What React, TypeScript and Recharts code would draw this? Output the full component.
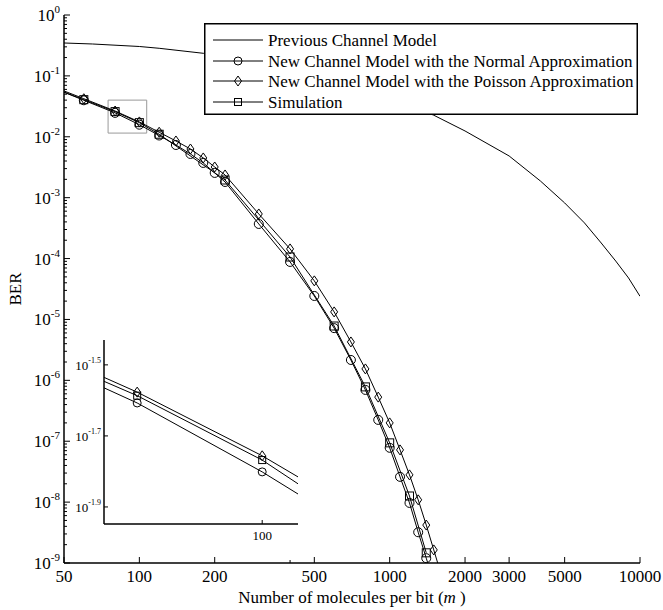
import { LineChart, Line, XAxis, YAxis, ReferenceArea, Legend } from 'recharts'

if (typeof document !== 'undefined') document.body.style.margin = '0'

const FONT = "'Liberation Serif', 'Times New Roman', serif"

// previous channel model (no markers)
const prevM = [50, 65, 100, 120, 180, 200, 300, 500, 700, 1000, 1500, 2000, 3000, 4000, 5000, 6000, 7000, 8000, 9000, 10000]
const prevBer = [0.347, 0.334, 0.304, 0.284, 0.235, 0.223, 0.171, 0.106, 0.0721, 0.0438, 0.0226, 0.01245, 0.00484, 0.00188, 8.2e-4, 3.85e-4, 1.8e-4, 9.1e-5, 4.8e-5, 2.4e-5]

// new model, normal approximation (circles)
const normM = [50, 60, 80, 100, 120, 140, 160, 180, 200, 220, 300, 400, 500, 600, 700, 800, 900, 1000, 1100, 1200, 1300, 1400, 1500]
const normBer = [0.0538, 0.0398, 0.0247, 0.0158, 0.0105, 0.00733, 0.00522, 0.00372, 0.00255, 0.00181, 3.7e-4, 8.8e-5, 2.43e-5, 7.2e-6, 2.16e-6, 6.96e-7, 2.24e-7, 7.8e-8, 2.6e-8, 9.7e-9, 3.2e-9, 1.2e-9, 4.8e-10]

// new model, poisson approximation (diamonds)
const poisM = [50, 60, 80, 100, 120, 140, 160, 180, 200, 220, 300, 400, 500, 600, 700, 800, 900, 1000, 1100, 1200, 1300, 1400, 1500, 1600]
const poisBer = [0.0566, 0.0422, 0.0265, 0.01754, 0.01187, 0.00853, 0.0063, 0.00449, 0.00319, 0.00236, 5.4e-4, 1.44e-4, 4.3e-5, 1.33e-5, 4.27e-6, 1.54e-6, 5.3e-7, 2.0e-7, 7.2e-8, 2.8e-8, 1.09e-8, 4.2e-9, 1.64e-9, 6.8e-10]

// simulation (squares)
const simM = [50, 60, 80, 100, 120, 220, 400, 600, 800, 1000, 1200, 1400]
const simBer = [0.0543, 0.0407, 0.0259, 0.01706, 0.011, 0.00195, 1.06e-4, 7.8e-6, 7.8e-7, 9.4e-8, 1.26e-8, 1.47e-9]

const seriesNames = [
  'Previous Channel Model',
  'New Channel Model with the Normal Approximation',
  'New Channel Model with the Poisson Approximation',
  'Simulation',
]
const seriesShapes = ['none', 'circle', 'diamond', 'square']

const xTicks = [50, 100, 200, 400, 500, 1000, 2000, 3000, 5000, 10000]
const xTickLabels = ['50', '100', '200', '', '500', '1000', '2000', '3000', '5000', '10000']
const yExps = [-9, -8, -7, -6, -5, -4, -3, -2, -1, 0]

// inset (zoom on m = 80..100)
const insetXDomain = [75.4, 106.6]
const insetYExpDomain = [-1.948, -1.43]
const insetXTicks = [100]
const insetYExps = [-1.9, -1.7, -1.5]
const insetYLabels = ['-1.9', '-1.7', '-1.5']
const zoomBoxM = [75, 107]
const zoomBoxBer = [0.0115, 0.04]

const rows = (m: number[], ber: number[]) => m.map((v, i) => ({ m: v, ber: ber[i] }))
const prevData = rows(prevM, prevBer)
const normData = rows(normM, normBer)
const poisData = rows(poisM, poisBer)
const simData = rows(simM, simBer)

const yTicks = yExps.flatMap((e) =>
  e === 0 ? [1] : [1, 2, 3, 4, 5, 6, 7, 8, 9].map((d) => d * Math.pow(10, e))
)
const isDecade = (v: number) => Math.abs(Math.log10(v) - Math.round(Math.log10(v))) < 1e-6

const AXIS = { stroke: '#000', strokeWidth: 1.5 }

function Marker({ shape, cx, cy, s }: { shape: string; cx: number; cy: number; s: number }) {
  if (shape === 'circle') return <circle cx={cx} cy={cy} r={s} fill="none" stroke="#000" />
  if (shape === 'diamond')
    return (
      <polygon
        points={`${cx},${cy - s - 1} ${cx + s - 0.5},${cy} ${cx},${cy + s + 1} ${cx - s + 0.5},${cy}`}
        fill="none"
        stroke="#000"
      />
    )
  if (shape === 'square')
    return <rect x={cx - s + 0.5} y={cy - s + 0.5} width={2 * s - 1} height={2 * s - 1} fill="none" stroke="#000" />
  return null
}

const dotFor = (shape: string, s: number) => (p: any) => {
  const key = `${shape}-${p.index}`
  if (p.cx == null || p.cy == null || p.payload?.m < 60) return <g key={key} />
  return (
    <g key={key}>
      <Marker shape={shape} cx={p.cx} cy={p.cy} s={s} />
    </g>
  )
}

// ---- main axis ticks (all inward) ----
function BottomTick({ x, y, payload }: any) {
  const label = xTickLabels[xTicks.indexOf(payload.value)]
  return (
    <g>
      <line x1={x} x2={x} y1={y} y2={y - (label ? 6 : 3)} stroke="#000" />
      {label ? (
        <text x={x} y={y + 19} textAnchor="middle" fontSize={17} fontFamily={FONT} fill="#000">
          {label}
        </text>
      ) : null}
    </g>
  )
}

function TopTick({ x, y, payload }: any) {
  const label = xTickLabels[xTicks.indexOf(payload.value)]
  return <line x1={x} x2={x} y1={y} y2={y + (label ? 6 : 3)} stroke="#000" />
}

function LeftTick({ x, y, payload }: any) {
  const major = isDecade(payload.value)
  return (
    <g>
      <line x1={x} x2={x + (major ? 6 : 3)} y1={y} y2={y} stroke="#000" />
      {major ? (
        <text x={x - 4} y={y + 6} textAnchor="end" fontSize={17} fontFamily={FONT} fill="#000">
          <tspan>10</tspan>
          <tspan dy={-8} fontSize={11}>
            {Math.round(Math.log10(payload.value))}
          </tspan>
        </text>
      ) : null}
    </g>
  )
}

function RightTick({ x, y, payload }: any) {
  const major = isDecade(payload.value)
  return <line x1={x} x2={x - (major ? 6 : 3)} y1={y} y2={y} stroke="#000" />
}

// ---- inset ticks ----
function InsetBottomTick({ x, y, payload }: any) {
  return (
    <g>
      <line x1={x} x2={x} y1={y} y2={y - 4} stroke="#000" />
      <text x={x} y={y + 16} textAnchor="middle" fontSize={13} fontFamily={FONT} fill="#000">
        {payload.value}
      </text>
    </g>
  )
}

function InsetTopTick({ x, y }: any) {
  return <line x1={x} x2={x} y1={y} y2={y + 4} stroke="#000" />
}

function InsetLeftTick({ x, y, payload }: any) {
  const i = insetYExps.findIndex((e) => Math.abs(Math.pow(10, e) - payload.value) < 1e-9)
  return (
    <g>
      <line x1={x} x2={x + 4} y1={y} y2={y} stroke="#000" />
      <text x={x - 3} y={y + 5} textAnchor="end" fontSize={13} fontFamily={FONT} fill="#000">
        <tspan>10</tspan>
        <tspan dy={-7} fontSize={8}>
          {insetYLabels[i]}
        </tspan>
      </text>
    </g>
  )
}

function InsetRightTick({ x, y }: any) {
  return <line x1={x} x2={x - 4} y1={y} y2={y} stroke="#000" />
}

const xTitle = ({ viewBox }: any) => (
  <text x={viewBox.x + viewBox.width / 2} y={viewBox.y + 40} textAnchor="middle" fontSize={17} fontFamily={FONT} fill="#000">
    Number of molecules per bit (<tspan fontStyle="italic">m</tspan> )
  </text>
)

const yTitle = ({ viewBox }: any) => {
  const cy = viewBox.y + viewBox.height / 2
  return (
    <text x={21} y={cy} transform={`rotate(-90, 21, ${cy})`} textAnchor="middle" fontSize={17} fontFamily={FONT} fill="#000">
      BER
    </text>
  )
}

function LegendBox() {
  const rowY = [17, 38, 58, 79]
  return (
    <svg width={434} height={92} style={{ display: 'block', fontFamily: FONT }}>
      <rect x={0.75} y={0.75} width={432.5} height={90.5} fill="#fff" stroke="#000" strokeWidth={1.5} />
      {seriesNames.map((name, i) => (
        <g key={name}>
          <line x1={9} x2={59} y1={rowY[i]} y2={rowY[i]} stroke="#000" />
          <Marker shape={seriesShapes[i]} cx={34} cy={rowY[i]} s={4} />
          <text x={64} y={rowY[i] + 6} fontSize={17} fontFamily={FONT} fill="#000">
            {name}
          </text>
        </g>
      ))}
    </svg>
  )
}

function Inset() {
  const yDomain = insetYExpDomain.map((e) => Math.pow(10, e))
  const yTk = insetYExps.map((e) => Math.pow(10, e))
  return (
    <LineChart width={250} height={220} margin={{ top: 10, right: 12, bottom: 0, left: 0 }} style={{ fontFamily: FONT }}>
      <XAxis xAxisId="b" dataKey="m" type="number" scale="log" domain={insetXDomain} allowDataOverflow
        ticks={insetXTicks} interval={0} tick={InsetBottomTick} tickLine={false} tickSize={0} tickMargin={0}
        height={26} axisLine={AXIS} />
      <XAxis xAxisId="t" orientation="top" dataKey="m" type="number" scale="log" domain={insetXDomain} allowDataOverflow
        ticks={insetXTicks} interval={0} tick={InsetTopTick} tickLine={false} tickSize={0} tickMargin={0}
        height={0} axisLine={AXIS} />
      <YAxis yAxisId="l" type="number" scale="log" domain={yDomain} allowDataOverflow ticks={yTk} interval={0}
        tick={InsetLeftTick} tickLine={false} tickSize={0} tickMargin={0} width={44} axisLine={AXIS} />
      <YAxis yAxisId="r" orientation="right" type="number" scale="log" domain={yDomain} allowDataOverflow ticks={yTk}
        interval={0} tick={InsetRightTick} tickLine={false} tickSize={0} tickMargin={0} width={0} axisLine={AXIS} />
      <Line xAxisId="b" yAxisId="l" data={normData} dataKey="ber" stroke="#000" strokeWidth={1} dot={dotFor('circle', 4)} isAnimationActive={false} />
      <Line xAxisId="b" yAxisId="l" data={poisData} dataKey="ber" stroke="#000" strokeWidth={1} dot={dotFor('diamond', 4)} isAnimationActive={false} />
      <Line xAxisId="b" yAxisId="l" data={simData} dataKey="ber" stroke="#000" strokeWidth={1} dot={dotFor('square', 4)} isAnimationActive={false} />
    </LineChart>
  )
}

export default function App() {
  return (
    <div style={{ position: 'relative', width: 663, height: 610, background: '#fff', fontFamily: FONT }}>
      <LineChart width={663} height={610} margin={{ top: 15, right: 23, bottom: 0, left: 0 }} style={{ fontFamily: FONT }}>
        <XAxis xAxisId="b" dataKey="m" type="number" scale="log" domain={[50, 10000]} allowDataOverflow
          ticks={xTicks} interval={0} tick={BottomTick} tickLine={false} tickSize={0} tickMargin={0}
          height={47} axisLine={AXIS} label={xTitle} />
        <XAxis xAxisId="t" orientation="top" dataKey="m" type="number" scale="log" domain={[50, 10000]} allowDataOverflow
          ticks={xTicks} interval={0} tick={TopTick} tickLine={false} tickSize={0} tickMargin={0}
          height={0} axisLine={AXIS} />
        <YAxis yAxisId="l" type="number" scale="log" domain={[1e-9, 1]} allowDataOverflow ticks={yTicks} interval={0}
          tick={LeftTick} tickLine={false} tickSize={0} tickMargin={0} width={64} axisLine={AXIS} label={yTitle} />
        <YAxis yAxisId="r" orientation="right" type="number" scale="log" domain={[1e-9, 1]} allowDataOverflow
          ticks={yTicks} interval={0} tick={RightTick} tickLine={false} tickSize={0} tickMargin={0} width={0}
          axisLine={AXIS} />
        <ReferenceArea xAxisId="b" yAxisId="l" x1={zoomBoxM[0]} x2={zoomBoxM[1]} y1={zoomBoxBer[0]} y2={zoomBoxBer[1]}
          fill="none" stroke="#999" strokeWidth={1} />
        <Line xAxisId="b" yAxisId="l" data={prevData} dataKey="ber" name={seriesNames[0]} stroke="#000" strokeWidth={1} dot={false} isAnimationActive={false} />
        <Line xAxisId="b" yAxisId="l" data={normData} dataKey="ber" name={seriesNames[1]} stroke="#000" strokeWidth={1} dot={dotFor('circle', 4.5)} isAnimationActive={false} />
        <Line xAxisId="b" yAxisId="l" data={poisData} dataKey="ber" name={seriesNames[2]} stroke="#000" strokeWidth={1} dot={dotFor('diamond', 4)} isAnimationActive={false} />
        <Line xAxisId="b" yAxisId="l" data={simData} dataKey="ber" name={seriesNames[3]} stroke="#000" strokeWidth={1} dot={dotFor('square', 4.5)} isAnimationActive={false} />
        <Legend layout="vertical" align="center" verticalAlign="middle" content={() => <LegendBox />}
          wrapperStyle={{ left: 204, top: 23, width: 434, height: 92 }} />
      </LineChart>
      <div style={{ position: 'absolute', left: 60, top: 330 }}>
        <Inset />
      </div>
    </div>
  )
}
